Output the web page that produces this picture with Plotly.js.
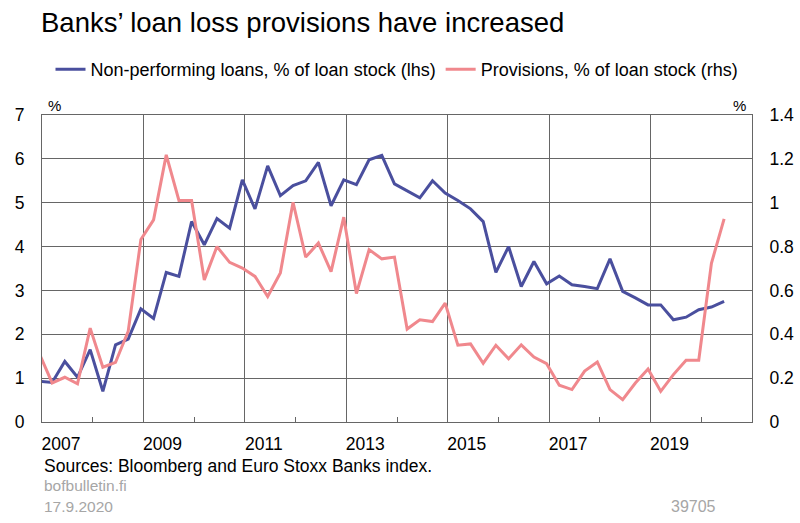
<!DOCTYPE html>
<html>
<head>
<meta charset="utf-8">
<script src="https://cdn.plot.ly/plotly-3.0.1.min.js"></script>
<style>
  html, body { margin: 0; padding: 0; background: #fff; }
  #chart { width: 800px; height: 523px; }
</style>
</head>
<body>
<div id="chart"></div>
<script>
// quarterly series, 2006 Q4 .. 2020 Q2
const firstYear = 2006, firstQuarter = 4;
const nplShare = [
  0.93, 0.90, 1.38, 1.02, 1.65, 0.70, 1.76, 1.89, 2.58, 2.36, 3.41, 3.32, 4.57, 4.04, 4.64,
  4.42, 5.52, 4.86, 5.84, 5.16, 5.39, 5.50, 5.92, 4.93, 5.52, 5.41, 5.98, 6.08, 5.43, 5.27,
  5.11, 5.50, 5.22, 5.05, 4.86, 4.57, 3.41, 4.00, 3.09, 3.66, 3.15, 3.33, 3.13, 3.09, 3.04,
  3.72, 2.98, 2.83, 2.67, 2.67, 2.33, 2.39, 2.56, 2.62, 2.75
];
const provisions = [
  0.31, 0.178, 0.204, 0.174, 0.428, 0.25, 0.272, 0.414, 0.832, 0.922, 1.218, 1.01, 1.01, 0.648, 0.80,
  0.728, 0.702, 0.664, 0.572, 0.68, 1.002, 0.752, 0.816, 0.686, 0.934, 0.586, 0.786, 0.744, 0.752, 0.424,
  0.466, 0.458, 0.542, 0.35, 0.356, 0.268, 0.35, 0.288, 0.352, 0.296, 0.266, 0.168, 0.148, 0.232, 0.274,
  0.148, 0.102, 0.178, 0.242, 0.14, 0.216, 0.282, 0.282, 0.724, 0.926
];
const yearLabels = ['2007', '2009', '2011', '2013', '2015', '2017', '2019'];
const seriesNames = ['Non-performing loans, % of loan stock (lhs)', 'Provisions, % of loan stock (rhs)'];

// quarter -> decimal year (value drawn a little before quarter end)
const quarterX = Array.from(nplShare, (el, i) => {
  const q = firstQuarter - 1 + i;
  return firstYear + Math.floor(q / 4) + ((q % 4) + 1) / 4 - 0.05;
});

const font = 'Liberation Sans, Arial, sans-serif';
const gridColor = '#666666';
const greyText = '#a6a6a6';

const data = [
  {
    name: seriesNames[0],
    type: 'scatter',
    mode: 'lines',
    x: quarterX,
    y: nplShare,
    line: { color: '#4a4f9e', width: 3 },
    yaxis: 'y'
  },
  {
    name: seriesNames[1],
    type: 'scatter',
    mode: 'lines',
    x: quarterX,
    y: provisions,
    line: { color: '#f0888d', width: 3 },
    yaxis: 'y2'
  }
];

const layout = {
  width: 800,
  height: 523,
  margin: { t: 115, b: 101, l: 42, r: 48 },
  paper_bgcolor: '#fff',
  plot_bgcolor: '#fff',
  font: { family: font, size: 17.5, color: '#000' },
  title: {
    text: 'Banks’ loan loss provisions have increased',
    font: { family: font, size: 27.5, color: '#000' },
    x: 41 / 800, xanchor: 'left',
    y: 1 - 22 / 523, yanchor: 'middle'
  },
  showlegend: true,
  legend: {
    orientation: 'h',
    x: 0.5, xanchor: 'center',
    y: 1.148, yanchor: 'middle',
    font: { family: font, size: 18, color: '#000' },
    itemwidth: 30,
    traceorder: 'normal'
  },
  xaxis: {
    range: [2007, 2021],
    tickmode: 'array',
    tickvals: yearLabels.map(Number),
    ticktext: yearLabels,
    ticks: '',
    ticklabelshift: 19,
    ticklabelstandoff: 6,
    showgrid: true,
    gridcolor: gridColor,
    gridwidth: 1,
    showline: true,
    linecolor: gridColor,
    linewidth: 1,
    mirror: true,
    zeroline: false,
    minor: { tick0: 2008, dtick: 2, ticks: 'inside', ticklen: 5, tickcolor: gridColor, showgrid: false },
    fixedrange: true
  },
  yaxis: {
    range: [0, 7],
    dtick: 1,
    tick0: 0,
    ticks: '',
    ticklabelstandoff: 13,
    showgrid: true,
    gridcolor: gridColor,
    gridwidth: 1,
    showline: true,
    linecolor: gridColor,
    zeroline: false,
    fixedrange: true
  },
  yaxis2: {
    range: [0, 1.4],
    dtick: 0.2,
    tick0: 0,
    overlaying: 'y',
    side: 'right',
    ticks: '',
    ticklabelstandoff: 13,
    showgrid: false,
    showline: true,
    linecolor: gridColor,
    zeroline: false,
    fixedrange: true
  },
  annotations: [
    { text: '%', xref: 'paper', yref: 'paper', x: 0.018, y: 1.03, xanchor: 'center', yanchor: 'middle', showarrow: false, font: { size: 15 } },
    { text: '%', xref: 'paper', yref: 'paper', x: 0.983, y: 1.03, xanchor: 'center', yanchor: 'middle', showarrow: false, font: { size: 15 } },
    { text: 'Sources: Bloomberg and Euro Stoxx Banks index.', xref: 'paper', yref: 'paper', x: 0, y: -0.143, xanchor: 'left', yanchor: 'middle', showarrow: false, font: { size: 17.5, color: '#000' } },
    { text: 'bofbulletin.fi', xref: 'paper', yref: 'paper', x: 0, y: -0.208, xanchor: 'left', yanchor: 'middle', showarrow: false, font: { size: 15.5, color: greyText } },
    { text: '17.9.2020', xref: 'paper', yref: 'paper', x: 0, y: -0.274, xanchor: 'left', yanchor: 'middle', showarrow: false, font: { size: 15.5, color: greyText } },
    { text: '39705', xref: 'paper', yref: 'paper', x: 0.952, y: -0.274, xanchor: 'right', yanchor: 'middle', showarrow: false, font: { size: 16, color: greyText } }
  ]
};

Plotly.newPlot('chart', data, layout, { staticPlot: true, displayModeBar: false });
</script>
</body>
</html>
